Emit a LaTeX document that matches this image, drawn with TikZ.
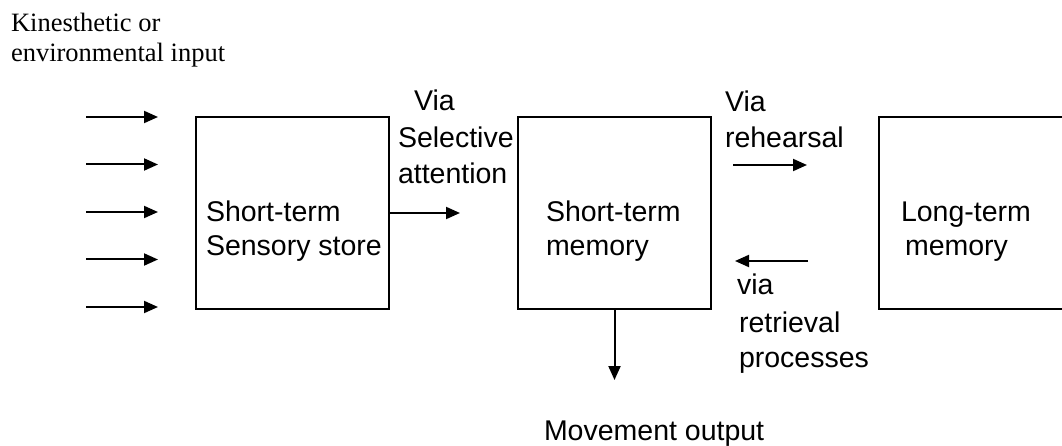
\documentclass[tikz,border=0pt]{standalone}
\usepackage{fontspec}
\setmainfont{Liberation Sans}
\newfontfamily\timesfont{Liberation Serif}
\usetikzlibrary{arrows.meta}

\begin{document}
\begin{tikzpicture}[x=1pt,y=-1pt,line width=2pt,
    store/.style={draw,minimum width=193pt,minimum height=192pt,inner sep=0pt},
    txt/.style={anchor=base west,inner sep=0pt,align=left,font=\fontsize{28.5}{36}\selectfont},
    boxtxt/.style={txt,font=\fontsize{28.5}{33.5}\selectfont},
    flow/.style={-{Triangle[length=14pt,width=12pt]}}]
  \useasboundingbox (0,0) rectangle (1062,446);
  \draw
    (292,213) node[store] (sensory){}
    (614.5,213) node[store] (stm){}
    (975.5,213) node[store] (ltm){};
  % multi-line nodes sit on the baseline of their last line
  \node[boxtxt] (sensorytxt) at (205,255) {Short-term\\Sensory store};
  \node[boxtxt] (stmtxt) at (545,255) {Short-term\\memory};
  \node[boxtxt] (ltmtxt) at (900,255) {Long-term\\\hspace*{4pt}memory};
  \node[anchor=base west,inner sep=0pt,align=left,font=\timesfont\fontsize{26.5}{30}\selectfont]
    (input) at (10,62) {Kinesthetic or\\environmental input};
  \node[txt] (via) at (413,111) {Via};
  \node[txt] (selective) at (397,184) {Selective\\attention};
  \node[txt] (rehearsal) at (724,148) {Via\\rehearsal};
  \node[txt] (viaret) at (736,294) {via};
  \node[txt,font=\fontsize{28.5}{35}\selectfont] (retrieval) at (738,367) {retrieval\\processes};
  \node[txt] (output) at (543,440) {Movement output};
  \coordinate (in1) at (86,117);   \coordinate (in1e) at (158,117);
  \coordinate (in2) at (86,164.5); \coordinate (in2e) at (158,164.5);
  \coordinate (in3) at (86,212);   \coordinate (in3e) at (158,212);
  \coordinate (in4) at (86,259.5); \coordinate (in4e) at (158,259.5);
  \coordinate (in5) at (86,307);   \coordinate (in5e) at (158,307);
  \coordinate (attn) at (460,213);
  \coordinate (reh) at (733,165);  \coordinate (rehe) at (807,165);
  \coordinate (ret) at (808,261);  \coordinate (rete) at (735,261);
  \coordinate (move) at (614.5,380);
  \begin{scope}[flow]
    \draw (in1) to (in1e);
    \draw (in2) to (in2e);
    \draw (in3) to (in3e);
    \draw (in4) to (in4e);
    \draw (in5) to (in5e);
    \draw (sensory.east) to (attn);
    \draw (reh) to (rehe);
    \draw (ret) to (rete);
    \draw (stm.south) to (move);
  \end{scope}
\end{tikzpicture}
\end{document}
